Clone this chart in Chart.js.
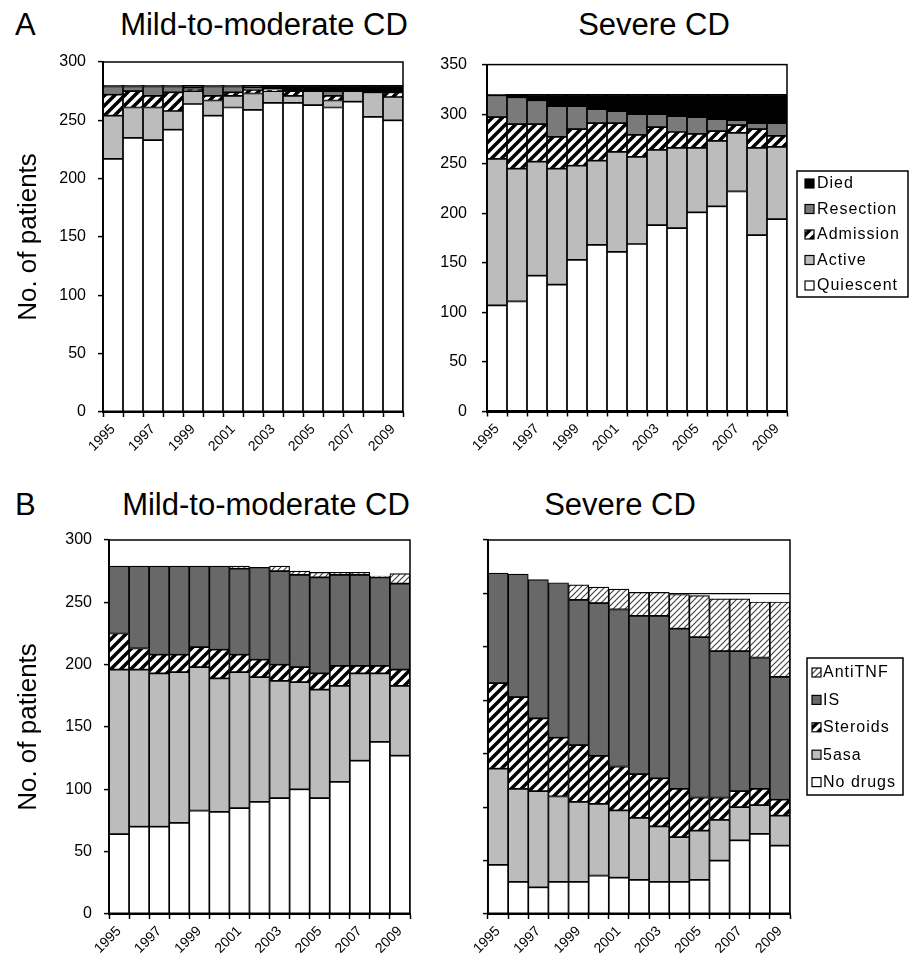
<!DOCTYPE html>
<html>
<head>
<meta charset="utf-8">
<script src="https://cdn.jsdelivr.net/npm/chart.js@4.4.1/dist/chart.umd.min.js"></script>
<style>
  body { margin: 0; background: #fff; width: 914px; height: 962px; position: relative; overflow: hidden;
         font-family: 'Liberation Sans', Arial, sans-serif; }
  .panel { position: absolute; }
  .txt { position: absolute; font-size: 31px; line-height: 1; color: #000; white-space: nowrap; }
  .title { text-align: center; width: 340px; }
</style>
</head>
<body>
<div class="txt" style="left:15px;top:9px">A</div>
<div class="txt title" style="left:94px;top:9px">Mild-to-moderate CD</div>
<div class="txt title" style="left:484px;top:9px">Severe CD</div>
<div class="txt" style="left:15px;top:489px">B</div>
<div class="txt title" style="left:96px;top:489px">Mild-to-moderate CD</div>
<div class="txt title" style="left:450px;top:489px">Severe CD</div>

<canvas id="aMild" class="panel" width="440" height="440" style="left:0;top:40px"></canvas>
<canvas id="aSevere" class="panel" width="474" height="440" style="left:440px;top:40px"></canvas>
<canvas id="bMild" class="panel" width="440" height="462" style="left:0;top:500px"></canvas>
<canvas id="bSevere" class="panel" width="474" height="462" style="left:440px;top:500px"></canvas>

<script>
const FONT = "'Liberation Sans', Arial, sans-serif";

const years = ['1995', '1996', '1997', '1998', '1999', '2000', '2001', '2002',
  '2003', '2004', '2005', '2006', '2007', '2008', '2009'];

// A: disease activity, mild-to-moderate CD
const mildQuiescent = [217, 235, 233, 242, 264, 254, 261, 259, 265, 265, 263, 261, 266, 253, 250];
const mildActive = [37, 26, 28, 16, 11, 13, 10, 14, 10, 6, 12, 6, 9, 21, 20];
const mildAdmission = [18, 14, 10, 16, 2, 4, 3, 3, 1, 4, 0, 4, 0, 0, 4];
const mildResection = [7, 4, 8, 5, 1, 8, 5, 2, 1, 0, 0, 4, 0, 0, 0];
const mildDied = [1, 1, 1, 1, 2, 1, 1, 2, 3, 5, 5, 5, 5, 6, 6];

// A: disease activity, severe CD
const sevQuiescent = [107, 111, 137, 128, 153, 168, 161, 169, 188, 185, 201, 207, 222, 178, 194];
const sevActive = [148, 134, 115, 117, 95, 85, 101, 88, 76, 81, 65, 66, 59, 88, 73];
const sevAdmission = [42, 45, 38, 32, 37, 38, 29, 22, 23, 16, 14, 10, 8, 19, 11];
const sevResection = [22, 27, 24, 31, 23, 14, 12, 21, 13, 16, 17, 12, 5, 6, 13];
const sevDied = [1, 3, 6, 12, 12, 15, 17, 20, 20, 22, 23, 25, 26, 29, 29];

// B: medication, mild-to-moderate CD
const mildNoDrugs = [64, 70, 70, 73, 83, 82, 85, 90, 93, 100, 93, 106, 123, 138, 127];
const mild5asa = [132, 126, 123, 121, 115, 107, 109, 100, 94, 86, 87, 77, 70, 55, 56];
const mildSteroids = [29, 17, 15, 14, 16, 23, 14, 14, 13, 12, 13, 16, 6, 6, 13];
const mildIS = [54, 66, 71, 71, 65, 67, 69, 74, 75, 74, 77, 73, 73, 71, 69];
const mildAntiTNF = [0, 0, 0, 0, 0, 0, 2, 0, 4, 3, 4, 2, 2, 1, 8];

// B: medication, severe CD
const sevNoDrugs = [46, 30, 25, 30, 30, 36, 34, 32, 30, 30, 32, 50, 69, 75, 64];
const sev5asa = [90, 87, 90, 80, 75, 67, 63, 58, 52, 42, 46, 38, 31, 27, 28];
const sevSteroids = [80, 86, 68, 55, 53, 45, 41, 41, 45, 45, 31, 21, 15, 15, 15];
const sevIS = [103, 115, 130, 145, 136, 143, 147, 148, 152, 150, 150, 137, 131, 123, 115];
const sevAntiTNF = [0, 0, 0, 0, 14, 15, 19, 22, 22, 32, 39, 49, 49, 52, 70];

function makeHatch(size, lineWidth, color) {
  const c = document.createElement('canvas');
  c.width = size;
  c.height = size;
  const g = c.getContext('2d');
  g.fillStyle = '#fff';
  g.fillRect(0, 0, size, size);
  g.strokeStyle = color;
  g.lineWidth = lineWidth;
  g.beginPath();
  g.moveTo(-size / 2, size / 2); g.lineTo(size / 2, -size / 2);
  g.moveTo(0, size); g.lineTo(size, 0);
  g.moveTo(size / 2, size * 1.5); g.lineTo(size * 1.5, size / 2);
  g.stroke();
  return g.createPattern(c, 'repeat');
}

const thickHatch = makeHatch(10, 3.5, '#000');
const thinHatch = makeHatch(6, 1.2, '#444');
const LIGHT = '#bcbcbc';
const MID = '#7a7a7a';
const DARK = '#686868';

// frame round the plot area
const frame = {
  id: 'frame',
  afterDatasetsDraw(chart) {
    const a = chart.chartArea;
    const ctx = chart.ctx;
    ctx.save();
    ctx.strokeStyle = '#000';
    ctx.lineWidth = 1.5;
    ctx.strokeRect(a.left, a.top, a.right - a.left, a.bottom - a.top);
    ctx.restore();
  }
};

// boxed legend, top item = last dataset
const boxLegend = {
  id: 'boxLegend',
  afterDraw(chart, args, opts) {
    if (!opts || opts.x === undefined) return;
    const ctx = chart.ctx;
    ctx.save();
    ctx.strokeStyle = '#000';
    ctx.lineWidth = 1.5;
    ctx.strokeRect(opts.x, opts.y, opts.w, opts.h);
    ctx.font = '16px ' + FONT;
    ctx.textBaseline = 'middle';
    ctx.letterSpacing = '1px';
    const sets = chart.data.datasets.slice().reverse();
    sets.forEach((ds, i) => {
      const cy = opts.y + opts.first + i * opts.row;
      ctx.fillStyle = ds.backgroundColor;
      ctx.fillRect(opts.x + opts.sx, cy - 5, 9, 9);
      ctx.lineWidth = 1.2;
      ctx.strokeRect(opts.x + opts.sx, cy - 5, 9, 9);
      ctx.fillStyle = '#000';
      ctx.fillText(ds.label, opts.x + opts.tx, cy);
    });
    ctx.restore();
  }
};

function bar(label, data, color) {
  return {
    label: label,
    data: data,
    backgroundColor: color,
    borderColor: '#000',
    borderWidth: 1.2,
    borderSkipped: false,
    barPercentage: 1,
    categoryPercentage: 1,
  };
}

function panelOptions(p) {
  return {
    responsive: false,
    animation: false,
    events: [],
    layout: { padding: { left: 0, top: p.top, right: p.right, bottom: 0 } },
    plugins: {
      legend: { display: false },
      tooltip: { enabled: false },
      boxLegend: p.legend || false,
    },
    scales: {
      x: {
        stacked: true,
        grid: { display: true, drawOnChartArea: false, drawTicks: true, tickLength: 5, tickColor: '#000', tickWidth: 1.5, offset: true },
        border: { display: true, color: '#000', width: 2 },
        ticks: {
          autoSkip: false,
          minRotation: 45,
          maxRotation: 45,
          padding: 4,
          color: '#000',
          font: { family: FONT, size: 14 },
          callback: function (v, i) {
            return i % 2 === 0 ? this.getLabelForValue(v) : '';
          },
        },
        afterFit: (s) => { s.height = p.xh; },
      },
      y: {
        stacked: true,
        min: 0,
        max: p.max,
        grid: {
          display: true,
          drawOnChartArea: !!p.gridAt,
          color: (c) => (p.gridAt && c.tick && c.tick.value === p.gridAt ? '#000' : 'rgba(0,0,0,0)'),
          lineWidth: 1.2,
          drawTicks: true,
          tickLength: 5,
          tickColor: '#000',
          tickWidth: 1.5,
        },
        border: { display: true, color: '#000', width: 2 },
        ticks: {
          stepSize: 50,
          padding: p.tickPad,
          color: '#000',
          font: { family: FONT, size: 16 },
          callback: (v) => (p.noLabels ? '' : v),
        },
        title: {
          display: !!p.yTitle,
          text: 'No. of patients',
          color: '#000',
          font: { family: FONT, size: 26 },
          padding: { top: 13, bottom: 0 },
        },
        afterFit: (s) => { s.width = p.yw; },
      },
    },
  };
}

new Chart(document.getElementById('aMild'), {
  type: 'bar',
  data: {
    labels: years,
    datasets: [
      bar('Quiescent', mildQuiescent, '#fff'),
      bar('Active', mildActive, LIGHT),
      bar('Admission', mildAdmission, thickHatch),
      bar('Resection', mildResection, MID),
      bar('Died', mildDied, '#000'),
    ],
  },
  options: panelOptions({ top: 22, right: 37, xh: 68, yw: 103, max: 300, tickPad: 12, yTitle: true }),
  plugins: [frame, boxLegend],
});

new Chart(document.getElementById('aSevere'), {
  type: 'bar',
  data: {
    labels: years,
    datasets: [
      bar('Quiescent', sevQuiescent, '#fff'),
      bar('Active', sevActive, LIGHT),
      bar('Admission', sevAdmission, thickHatch),
      bar('Resection', sevResection, MID),
      bar('Died', sevDied, '#000'),
    ],
  },
  options: panelOptions({
    top: 20, right: 127, xh: 68.5, yw: 47, max: 350, tickPad: 15,
    legend: { x: 357, y: 131, w: 111, h: 126, first: 13, row: 25.5, sx: 8, tx: 20 },
  }),
  plugins: [frame, boxLegend],
});

new Chart(document.getElementById('bMild'), {
  type: 'bar',
  data: {
    labels: years,
    datasets: [
      bar('No drugs', mildNoDrugs, '#fff'),
      bar('5asa', mild5asa, LIGHT),
      bar('Steroids', mildSteroids, thickHatch),
      bar('IS', mildIS, DARK),
      bar('AntiTNF', mildAntiTNF, thinHatch),
    ],
  },
  options: panelOptions({ top: 40, right: 30, xh: 48, yw: 109, max: 300, tickPad: 12, yTitle: true }),
  plugins: [frame, boxLegend],
});

new Chart(document.getElementById('bSevere'), {
  type: 'bar',
  data: {
    labels: years,
    datasets: [
      bar('No drugs', sevNoDrugs, '#fff'),
      bar('5asa', sev5asa, LIGHT),
      bar('Steroids', sevSteroids, thickHatch),
      bar('IS', sevIS, DARK),
      bar('AntiTNF', sevAntiTNF, thinHatch),
    ],
  },
  options: panelOptions({
    top: 40, right: 124, xh: 48, yw: 48, max: 350, tickPad: 10, noLabels: true, gridAt: 300,
    legend: { x: 367, y: 158, w: 96, h: 137, first: 15, row: 27.4, sx: 5, tx: 16 },
  }),
  plugins: [frame, boxLegend],
});
</script>
</body>
</html>
